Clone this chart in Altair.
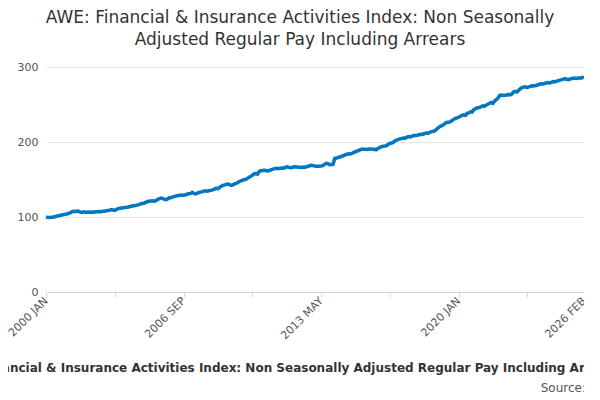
import altair as alt
import pandas as pd

MONTHS = ["JAN", "FEB", "MAR", "APR", "MAY", "JUN", "JUL", "AUG", "SEP", "OCT", "NOV", "DEC"]

# index values, one row per year, 2000 JAN .. 2026 FEB
idx_2000 = [100, 99.5, 99.2, 99.6, 99.8, 100.4, 101.0, 101.5, 102.0, 102.6, 103.0, 103.5]
idx_2001 = [104.0, 104.6, 105.5, 106.8, 107.5, 107.2, 108.0, 107.6, 106.5, 106.0, 106.8, 106.4]
idx_2002 = [106.2, 106.6, 106.4, 106.7, 106.5, 106.9, 107.0, 107.2, 107.1, 107.6, 107.8, 108.2]
idx_2003 = [108.5, 109.0, 110.0, 109.4, 108.8, 110.2, 111.2, 111.6, 112.0, 112.2, 112.6, 113.0]
idx_2004 = [113.4, 114.0, 114.6, 115.0, 115.2, 115.8, 116.5, 117.4, 118.0, 118.4, 119.5, 120.6]
idx_2005 = [121.0, 121.4, 121.6, 121.2, 121.8, 123.5, 124.6, 125.2, 124.5, 123.5, 123.2, 124.5]
idx_2006 = [125.6, 126.0, 126.8, 127.6, 128.4, 128.6, 128.9, 129.2, 129.0, 129.4, 130.4, 131.0]
idx_2007 = [131.2, 132.8, 131.5, 130.8, 131.8, 132.6, 133.2, 133.8, 134.6, 134.8, 134.4, 135.2]
idx_2008 = [135.6, 136.2, 137.0, 138.4, 137.6, 139.5, 141.0, 142.2, 142.8, 143.6, 144.0, 142.8]
idx_2009 = [142.2, 143.0, 144.4, 145.2, 146.6, 148.0, 148.8, 149.6, 150.0, 151.2, 152.8, 154.0]
idx_2010 = [155.5, 157.4, 158.0, 157.0, 160.6, 161.8, 162.0, 162.2, 162.0, 161.4, 162.0, 163.0]
idx_2011 = [163.8, 164.5, 165.0, 164.8, 164.6, 165.2, 165.0, 165.6, 167.0, 166.5, 165.6, 166.0]
idx_2012 = [166.6, 167.0, 166.8, 166.4, 166.2, 166.0, 166.6, 166.3, 167.4, 168.0, 169.0, 168.6]
idx_2013 = [168.2, 167.8, 167.6, 167.8, 168.0, 168.4, 170.2, 171.6, 171.0, 169.8, 170.0, 170.2]
idx_2014 = [178.0, 178.6, 179.4, 180.0, 181.0, 181.6, 182.8, 183.6, 184.2, 184.0, 184.8, 186.2]
idx_2015 = [187.0, 188.0, 188.6, 189.8, 190.6, 190.2, 190.4, 190.0, 190.6, 190.8, 190.4, 190.2]
idx_2016 = [189.6, 191.2, 192.6, 193.6, 194.4, 194.6, 195.0, 196.8, 198.0, 198.6, 199.4, 201.6]
idx_2017 = [202.4, 203.4, 204.2, 204.6, 205.4, 205.2, 206.4, 207.2, 206.8, 207.8, 208.6, 208.8]
idx_2018 = [209.0, 209.6, 210.4, 210.2, 211.0, 211.8, 211.4, 212.4, 213.6, 214.2, 214.6, 216.4]
idx_2019 = [218.6, 220.4, 221.4, 222.6, 224.4, 226.0, 226.2, 226.8, 228.4, 229.8, 231.6, 232.0]
idx_2020 = [233.0, 234.2, 235.6, 236.2, 235.4, 238.2, 238.8, 240.2, 240.0, 243.6, 244.6, 245.6]
idx_2021 = [246.0, 246.8, 248.2, 247.6, 249.0, 250.4, 251.4, 252.8, 251.6, 254.6, 256.4, 258.6]
idx_2022 = [262.2, 262.6, 262.0, 262.4, 262.6, 263.4, 262.8, 264.0, 266.6, 267.4, 266.6, 269.0]
idx_2023 = [271.0, 272.6, 273.4, 273.2, 272.8, 273.6, 274.4, 275.0, 274.6, 275.4, 276.0, 277.0]
idx_2024 = [277.6, 277.4, 278.0, 278.6, 279.2, 278.8, 279.6, 280.6, 280.0, 281.2, 281.6, 282.4]
idx_2025 = [283.2, 283.8, 284.4, 283.6, 283.0, 284.0, 284.6, 285.4, 285.0, 284.6, 285.6, 285.0]
idx_2026 = [286.2, 285.6]

years = list(range(2000, 2027))
rows = [idx_2000, idx_2001, idx_2002, idx_2003, idx_2004, idx_2005, idx_2006, idx_2007,
        idx_2008, idx_2009, idx_2010, idx_2011, idx_2012, idx_2013, idx_2014, idx_2015,
        idx_2016, idx_2017, idx_2018, idx_2019, idx_2020, idx_2021, idx_2022, idx_2023,
        idx_2024, idx_2025, idx_2026]

recs = []
for y, vals in zip(years, rows):
    for m, v in enumerate(vals):
        recs.append({"i": len(recs), "label": f"{y} {MONTHS[m]}", "value": v})
df = pd.DataFrame(recs)

label_at = {0: "2000 JAN", 80: "2006 SEP", 160: "2013 MAY", 240: "2020 JAN", 313: "2026 FEB"}
expr = " : ".join(f"datum.value == {k} ? '{v}'" for k, v in label_at.items()) + " : ''"
FONT = "DejaVu Sans"

line = alt.Chart(df).mark_line(color="#0077c0", strokeWidth=3.5).encode(
    x=alt.X("i:Q", scale=alt.Scale(domain=[0, 313], nice=False),
            title="Financial & Insurance Activities Index: Non Seasonally Adjusted Regular Pay Including Arrears",
            axis=alt.Axis(values=[0, 40, 80, 120, 160, 200, 240, 280, 313], labelExpr=expr,
                          labelAngle=315, labelAlign="right", labelBaseline="middle",
                          labelFlush=False, labelOverlap=False,
                          grid=False, domainColor="#ccd6eb", tickColor="#ccd6eb",
                          labelColor="#555", labelFontSize=11, titleFontSize=12,
                          titleFontWeight="bold", titleColor="#333", titlePadding=22,
                          titleX=254, labelFont=FONT, titleFont=FONT)),
    y=alt.Y("value:Q", scale=alt.Scale(domain=[0, 300], nice=False), title=None,
            axis=alt.Axis(values=[0, 100, 200, 300], gridColor="#e6e6e6", domain=False,
                          ticks=False, labelColor="#555", labelFontSize=11, labelPadding=8,
                          labelFont=FONT)),
)

source = alt.Chart(pd.DataFrame({"t": ["Source:"]})).mark_text(
    align="right", fontSize=12, color="#555", font=FONT
).encode(x=alt.value(540), y=alt.value(321), text="t:N")

chart = alt.layer(line, source).properties(
    width=538, height=225,
    autosize=alt.AutoSizeParams(type="none"),
    padding={"left": 38, "top": 59, "right": 0, "bottom": 100},
    title=alt.TitleParams(
        ["AWE: Financial & Insurance Activities Index: Non Seasonally", "Adjusted Regular Pay Including Arrears"],
        fontSize=17, fontWeight="normal", color="#333", font=FONT, anchor="middle",
        offset=12, dx=-15, lineHeight=22),
).configure_view(stroke=None)

chart.save("out.html", embed_options={"renderer": "svg", "actions": False})
